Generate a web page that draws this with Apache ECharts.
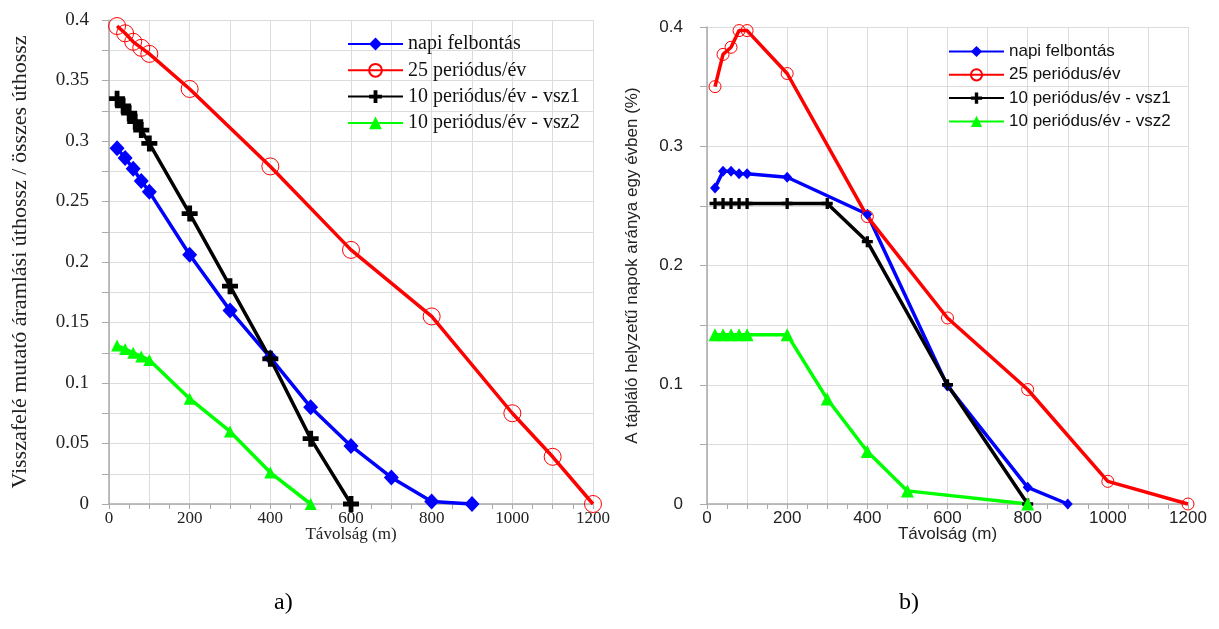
<!DOCTYPE html>
<html>
<head>
<meta charset="utf-8">
<script src="https://cdn.jsdelivr.net/npm/echarts@6/dist/echarts.min.js"></script>
<style>
	html, body { margin: 0; padding: 0; background: #fff; }
	#main { width: 1219px; height: 629px; }
</style>
</head>
<body>
<div id="main"></div>
<script>
	// --- a) Visszafelé mutató áramlási úthossz / összes úthossz ---
	const aNapiX = [20, 40, 60, 80, 100, 200, 300, 400, 500, 600, 700, 800, 900]
	const aNapiY = [0.294, 0.286, 0.277, 0.267, 0.258, 0.206, 0.160, 0.121, 0.080, 0.048, 0.022, 0.002, 0.0]
	const a25X = [20, 40, 60, 80, 100, 200, 400, 600, 800, 1000, 1100, 1200]
	const a25Y = [0.395, 0.389, 0.382, 0.377, 0.372, 0.343, 0.279, 0.210, 0.155, 0.075, 0.039, 0.0]
	const aVsz1X = [20, 35, 50, 65, 80, 100, 200, 300, 400, 500, 600]
	const aVsz1Y = [0.335, 0.329, 0.323, 0.316, 0.309, 0.298, 0.240, 0.180, 0.120, 0.054, 0.0]
	const aVsz2X = [20, 40, 60, 80, 100, 200, 300, 400, 500]
	const aVsz2Y = [0.131, 0.128, 0.125, 0.122, 0.119, 0.087, 0.060, 0.026, 0.0]

	// --- b) A tápláló helyzetű napok aránya egy évben (%) ---
	const bNapiX = [20, 40, 60, 80, 100, 200, 400, 600, 800, 900]
	const bNapiY = [0.265, 0.279, 0.279, 0.277, 0.277, 0.274, 0.243, 0.099, 0.014, 0.0]
	const b25X = [20, 40, 60, 80, 100, 200, 400, 600, 800, 1000, 1200]
	const b25Y = [0.350, 0.377, 0.383, 0.397, 0.397, 0.361, 0.241, 0.156, 0.096, 0.019, 0.0]
	const bVsz1X = [20, 40, 60, 80, 100, 200, 300, 400, 600, 800]
	const bVsz1Y = [0.252, 0.252, 0.252, 0.252, 0.252, 0.252, 0.252, 0.220, 0.100, 0.0]
	const bVsz2X = [20, 40, 60, 80, 100, 200, 300, 400, 500, 800]
	const bVsz2Y = [0.142, 0.142, 0.142, 0.142, 0.142, 0.142, 0.088, 0.044, 0.011, 0.0]

	const seriesNames = ['napi felbontás', '25 periódus/év', '10 periódus/év - vsz1', '10 periódus/év - vsz2']
	const colors = ['#0000ff', '#ff0000', '#000000', '#00ff00']

	const SERIF = '"Liberation Serif", "Times New Roman", serif'
	const SANS = '"Liberation Sans", Arial, sans-serif'
	const PLUS = 'path://M3.5,0H6.5V3.5H10V6.5H6.5V10H3.5V6.5H0V3.5H3.5Z'

	function zip(xs, ys) {
		return xs.map((x, i) => [x, ys[i]])
	}

	// sorozat összeállítás
	function makeSeries(idx, data, big) {
		let s = {
			name: seriesNames[idx],
			type: 'line',
			xAxisIndex: big ? 0 : 1,
			yAxisIndex: big ? 0 : 1,
			data: data,
			lineStyle: { color: colors[idx], width: 3.5 },
			itemStyle: { color: colors[idx] },
			clip: false,
			emphasis: { disabled: true },
		}
		if (idx === 0) {
			s.symbol = 'diamond'
			s.symbolSize = big ? [15, 16] : [10, 11]
		} else if (idx === 1) {
			s.symbol = 'circle'
			s.symbolSize = big ? 17 : 12
			s.itemStyle = { color: 'rgba(0,0,0,0)', borderColor: colors[idx], borderWidth: 1 }
		} else if (idx === 2) {
			s.symbol = PLUS
			s.symbolSize = big ? 16 : 11
		} else {
			s.symbol = 'triangle'
			s.symbolSize = big ? 12 : 13
		}
		return s
	}

	function xAxis(gridIndex, font) {
		return {
			type: 'value', gridIndex: gridIndex,
			min: 0, max: 1200, interval: 100,
			name: 'Távolság (m)', nameLocation: 'middle', nameGap: 22,
			nameMoveOverlap: false,
			nameTextStyle: { fontFamily: font, fontSize: 17, color: '#222', verticalAlign: 'top' },
			axisLine: { show: true, lineStyle: { color: '#aaa', width: 1.5 } },
			axisTick: { show: true, length: 5, lineStyle: { color: '#aaa' } },
			minorTick: { show: true, splitNumber: 2, length: 5, lineStyle: { color: '#aaa' } },
			axisLabel: {
				margin: 6, fontFamily: font, fontSize: 17, color: '#222',
				formatter: v => (v % 200 === 0 ? v : '')
			},
			splitLine: { show: true, lineStyle: { color: '#dcdcdc' } },
		}
	}

	let option = {
		animation: false,
		backgroundColor: '#fff',
		title: [
			{ text: 'a)', left: 269, top: 586, textStyle: { fontFamily: SERIF, fontSize: 24, fontWeight: 'normal', color: '#000' } },
			{ text: 'b)', left: 894, top: 586, textStyle: { fontFamily: SERIF, fontSize: 24, fontWeight: 'normal', color: '#000' } },
		],
		legend: [
			{
				data: seriesNames, orient: 'vertical', left: 342, top: 29,
				itemWidth: 55, itemHeight: 16, itemGap: 6.3,
				textStyle: { fontFamily: SERIF, fontSize: 20, color: '#111' },
				selectedMode: false,
			},
			{
				data: seriesNames, orient: 'vertical', left: 943, top: 38,
				itemWidth: 55, itemHeight: 14, itemGap: 6.3,
				textStyle: { fontFamily: SANS, fontSize: 17, color: '#111' },
				selectedMode: false,
			},
		],
		grid: [
			{ left: 109, right: 1219 - 593, top: 20, bottom: 629 - 504 },
			{ left: 707, right: 1219 - 1188, top: 27, bottom: 629 - 504 },
		],
		xAxis: [xAxis(0, SERIF), xAxis(1, SANS)],
		yAxis: [
			{
				type: 'value', gridIndex: 0, min: 0, max: 0.4, interval: 0.05,
				name: 'Visszafelé mutató áramlási úthossz / összes úthossz',
				nameLocation: 'middle', nameGap: 78, nameMoveOverlap: false,
				nameTextStyle: { fontFamily: SERIF, fontSize: 22, color: '#222' },
				axisLine: { show: true, lineStyle: { color: '#aaa', width: 1.5 } },
				axisTick: { show: true, length: 7, lineStyle: { color: '#aaa' } },
				minorTick: { show: true, splitNumber: 2, length: 7, lineStyle: { color: '#aaa' } },
				axisLabel: { margin: 20, fontFamily: SERIF, fontSize: 19, color: '#222' },
				splitLine: { show: true, lineStyle: { color: '#dcdcdc' } },
				minorSplitLine: { show: true, lineStyle: { color: '#dcdcdc' } },
			},
			{
				type: 'value', gridIndex: 1, min: 0, max: 0.4, interval: 0.1,
				name: 'A tápláló helyzetű napok aránya egy évben (%)',
				nameLocation: 'middle', nameGap: 66, nameMoveOverlap: false,
				nameTextStyle: { fontFamily: SANS, fontSize: 17, color: '#222' },
				axisLine: { show: true, lineStyle: { color: '#aaa', width: 1.5 } },
				axisTick: { show: true, length: 7, lineStyle: { color: '#aaa' } },
				minorTick: { show: true, splitNumber: 2, length: 7, lineStyle: { color: '#aaa' } },
				axisLabel: { margin: 24, fontFamily: SANS, fontSize: 17, color: '#222' },
				splitLine: { show: true, lineStyle: { color: '#dcdcdc' } },
				minorSplitLine: { show: true, lineStyle: { color: '#dcdcdc' } },
			},
		],
		series: [
			makeSeries(0, zip(aNapiX, aNapiY), true),
			makeSeries(1, zip(a25X, a25Y), true),
			makeSeries(2, zip(aVsz1X, aVsz1Y), true),
			makeSeries(3, zip(aVsz2X, aVsz2Y), true),
			makeSeries(0, zip(bNapiX, bNapiY), false),
			makeSeries(1, zip(b25X, b25Y), false),
			makeSeries(2, zip(bVsz1X, bVsz1Y), false),
			makeSeries(3, zip(bVsz2X, bVsz2Y), false),
		]
	}

	let myChart = echarts.init(document.getElementById('main'))
	myChart.setOption(option)
</script>
</body>
</html>
